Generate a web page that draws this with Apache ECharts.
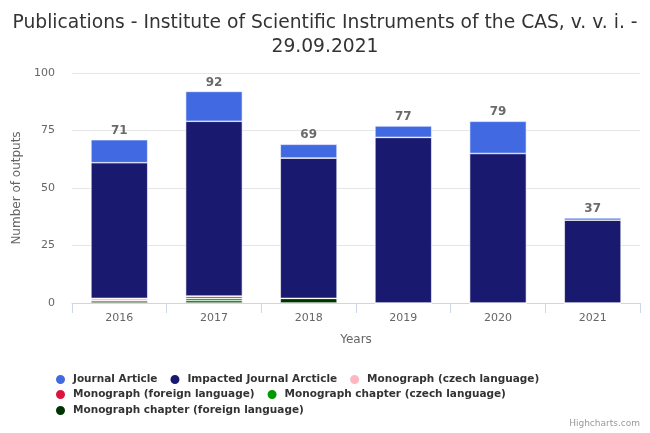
<!DOCTYPE html>
<html><head><meta charset="utf-8">
<script src="https://cdn.jsdelivr.net/npm/echarts@6/dist/echarts.min.js"></script>
<style>html,body{margin:0;padding:0;background:#fff}#c{width:650px;height:433px}</style>
</head><body><div id="c"></div>
<script>
const categories = ['2016','2017','2018','2019','2020','2021'];
const journalArticle = [10, 13, 6, 5, 14, 1];
const impactedJournal = [59, 76, 61, 72, 65, 36];
const monoCzech = [1, 0, 0, 0, 0, 0];
const monoForeign = [0, 1, 0, 0, 0, 0];
const chapterCzech = [0, 1, 0, 0, 0, 0];
const chapterForeign = [1, 1, 2, 0, 0, 0];
const yTicks = [0, 25, 50, 75, 100];

const FONT = '"DejaVu Sans", sans-serif';
const seriesDefs = [
  ['Journal Article', journalArticle, '#4169E1'],
  ['Impacted Journal Arcticle', impactedJournal, '#191970'],
  ['Monograph (czech language)', monoCzech, '#FFB6C1'],
  ['Monograph (foreign language)', monoForeign, '#DC143C'],
  ['Monograph chapter (czech language)', chapterCzech, '#009900'],
  ['Monograph chapter (foreign language)', chapterForeign, '#003300']
];
const totals = categories.map((_, i) => seriesDefs.reduce((s, d) => s + d[1][i], 0));

const series = seriesDefs.slice().reverse().map((d) => ({
  name: d[0], type: 'bar', stack: 'all', data: d[1],
  itemStyle: { color: d[2], borderColor: '#ffffff', borderWidth: 0.6 },
  barCategoryGap: '40%',
  emphasis: { disabled: true },
  label: d[0] === 'Journal Article' ? {
    show: true, position: 'top', distance: 3,
    formatter: (p) => String(totals[p.dataIndex]),
    color: '#6a6a6a', fontSize: 12, fontWeight: 'bold', fontFamily: FONT
  } : { show: false }
}));

const legendCommon = {
  left: 49, icon: 'circle', itemWidth: 11, itemHeight: 11, itemGap: 11,
  textStyle: { color: '#333333', fontSize: 10.5, fontWeight: 'bold', fontFamily: FONT, padding: [0,0,0,2] },
  selectedMode: false
};

const chart = echarts.init(document.getElementById('c'), null, { renderer: 'canvas' });
chart.setOption({
  animation: false,
  textStyle: { fontFamily: FONT },
  title: {
    text: 'Publications - Institute of Scientific Instruments of the CAS, v. v. i. -\n29.09.2021',
    left: 'center', top: 6,
    textStyle: { color: '#333333', fontSize: 18.7, fontWeight: 'normal', fontFamily: FONT, lineHeight: 24 }
  },
  legend: [
    Object.assign({ top: 368, data: seriesDefs.slice(0,3).map(d => d[0]) }, legendCommon),
    Object.assign({ top: 383, data: seriesDefs.slice(3,5).map(d => d[0]) }, legendCommon),
    Object.assign({ top: 399, data: seriesDefs.slice(5).map(d => d[0]) }, legendCommon)
  ],
  grid: { left: 72, right: 10, top: 73, bottom: 130, containLabel: false },
  xAxis: {
    type: 'category', data: categories,
    name: 'Years', nameLocation: 'middle', nameGap: 31,
    nameTextStyle: { color: '#666666', fontSize: 12, fontFamily: FONT },
    axisLine: { lineStyle: { color: '#ccd6eb' } },
    axisTick: { show: true, length: 10, lineStyle: { color: '#ccd6eb' } },
    axisLabel: { color: '#666666', fontSize: 11, margin: 10, fontFamily: FONT }
  },
  yAxis: {
    type: 'value', min: yTicks[0], max: yTicks[yTicks.length-1], interval: 25,
    name: 'Number of outputs', nameLocation: 'middle', nameGap: 46, nameRotate: 90,
    nameTextStyle: { color: '#666666', fontSize: 12, fontFamily: FONT },
    axisLine: { show: false }, axisTick: { show: false },
    splitLine: { lineStyle: { color: '#e6e6e6' } },
    axisLabel: { color: '#666666', fontSize: 11, margin: 17, fontFamily: FONT }
  },
  graphic: [{
    type: 'text', right: 10, bottom: 5,
    style: { text: 'Highcharts.com', fill: '#999999', fontSize: 9, fontFamily: FONT }
  }],
  series: series
});
</script></body></html>
